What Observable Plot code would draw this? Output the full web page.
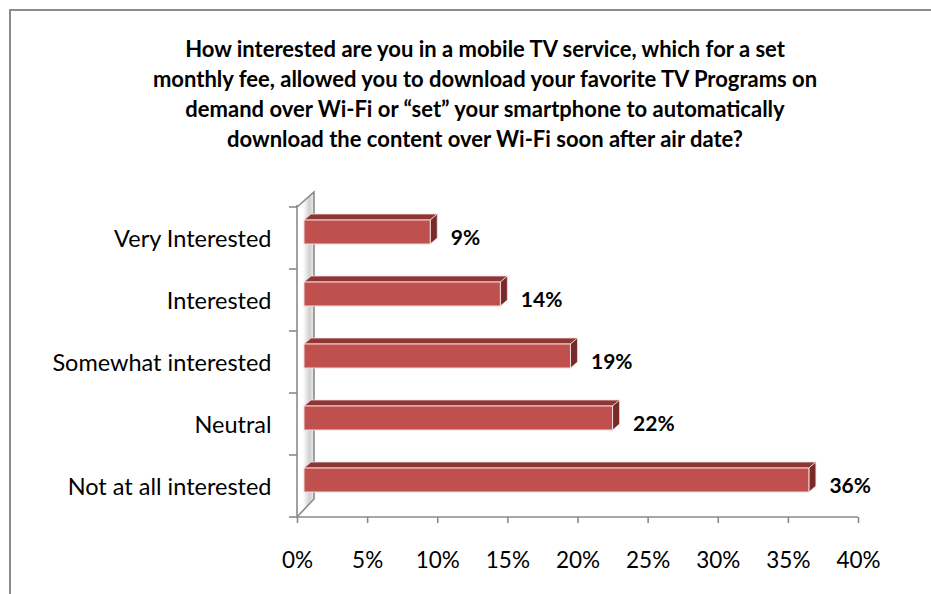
<!DOCTYPE html>
<html><head><meta charset="utf-8">
<script src="https://cdn.jsdelivr.net/npm/d3@7"></script>
<script src="https://cdn.jsdelivr.net/npm/@observablehq/plot@0.6"></script>
<style>
body{margin:0;background:#fff;}
#wrap{position:relative;width:931px;height:594px;overflow:hidden;background:#fff;}
#border{position:absolute;left:9px;top:9px;width:960px;height:620px;border:2px solid #8c8c8c;box-sizing:border-box;}
#chart{position:absolute;left:0;top:0;}
</style></head><body>
<div id="wrap"><div id="border"></div><div id="chart"></div></div>
<script>
const categories = ["Very Interested", "Interested", "Somewhat interested", "Neutral", "Not at all interested"];
const values = [9, 14, 19, 22, 36];
const valueLabels = ["9%", "14%", "19%", "22%", "36%"];
const xTicks = [0, 5, 10, 15, 20, 25, 30, 35, 40];
const titleLines = [
  "How interested are you in a mobile TV service, which for a set",
  "monthly fee, allowed you to download your favorite TV Programs on",
  "demand over Wi-Fi or \u201cset\u201d your smartphone to automatically",
  "download the content over Wi-Fi soon after air date?"
];

const data = categories.map((c, i) => ({cat: c, value: values[i], label: valueLabels[i]}));

const FONT = "Lato, 'Open Sans', sans-serif";
const DX = 7, DY = -6, DEPTH_X = 7, DEPTH_Y = -6, INSET = 19;
const RED = "#c0504d", TOP = "#8e3634", SIDE = "#772a28", EDGE = "#f4dada";

// 3D left wall, floor edge and category separators, through the plot scales
function walls(index, scales, vals, dims) {
  const x = scales.x, y = scales.y;
  const x0 = x(0), x1 = x(xTicks[xTicks.length - 1]);
  const top = y(categories[0]);
  const step = y.step();
  const bottom = top + step * categories.length;
  const g = d3.create("svg:g");
  const defs = g.append("defs");
  const grad = defs.append("linearGradient").attr("id", "wallgrad").attr("x1", "0").attr("x2", "1").attr("y1", "0").attr("y2", "0");
  grad.append("stop").attr("offset", "0%").attr("stop-color", "#ffffff");
  grad.append("stop").attr("offset", "35%").attr("stop-color", "#ffffff");
  grad.append("stop").attr("offset", "75%").attr("stop-color", "#cfcfcf");
  grad.append("stop").attr("offset", "100%").attr("stop-color", "#eeeeee");
  const wx = 17, wyTop = -15, wyBot = -18;
  g.append("path")
    .attr("d", `M${x0},${top}L${x0 + wx},${top + wyTop}L${x0 + wx},${bottom + wyBot}L${x0},${bottom}Z`)
    .attr("fill", "url(#wallgrad)");
  const st = {stroke: "#8a8a8a", "stroke-width": 1.6, fill: "none"};
  const line = (d) => { const p = g.append("path").attr("d", d); for (const k in st) p.attr(k, st[k]); };
  line(`M${x0},${top}L${x0 + wx},${top + wyTop}L${x0 + wx},${bottom + wyBot}L${x0},${bottom}`);
  line(`M${x0},${top - 2}L${x0},${bottom}L${x1},${bottom}`);
  for (let i = 0; i <= categories.length; i++) {
    const yy = top + i * step;
    line(`M${x0 - 8},${yy}L${x0},${yy}`);
  }
  return g.node();
}

// top and side faces of the 3D bars
function faces(index, scales) {
  const x = scales.x, y = scales.y;
  const g = d3.create("svg:g");
  for (const d of data) {
    const xa = x(0) + DX, xb = x(d.value) + DX;
    const yt = y(d.cat) + INSET + DY, yb = y(d.cat) + y.bandwidth() - INSET + DY;
    g.append("path")
      .attr("d", `M${xa},${yt}L${xb},${yt}L${xb + DEPTH_X},${yt + DEPTH_Y}L${xa + DEPTH_X},${yt + DEPTH_Y}Z`)
      .attr("fill", TOP).attr("stroke", EDGE).attr("stroke-width", 0.8);
    g.append("path")
      .attr("d", `M${xb},${yt}L${xb + DEPTH_X},${yt + DEPTH_Y}L${xb + DEPTH_X},${yb + DEPTH_Y}L${xb},${yb}Z`)
      .attr("fill", SIDE).attr("stroke", EDGE).attr("stroke-width", 0.8);
  }
  return g.node();
}

const chart = Plot.plot({
  width: 931,
  height: 594,
  marginLeft: 297,
  marginRight: 73,
  marginTop: 207,
  marginBottom: 77,
  style: {fontFamily: FONT, color: "#000", background: "transparent", overflow: "visible"},
  x: {domain: [0, 40], label: null},
  y: {domain: categories, padding: 0, label: null},
  marks: [
    walls,
    faces,
    Plot.barX(data, {x: "value", y: "cat", fill: RED, stroke: EDGE, strokeWidth: 1, dx: DX, dy: DY, insetTop: INSET, insetBottom: INSET}),
    Plot.axisX({ticks: xTicks, tickFormat: d => d + "%", tickSize: 6, tickPadding: 29, fontSize: 22.5, stroke: "#8a8a8a", strokeWidth: 1.6, fill: "#000", label: null}),
    Plot.axisY({tickSize: 0, tickPadding: 26, fontSize: 23.5, fill: "#000", dy: 1, label: null}),
    Plot.text(data, {x: "value", y: "cat", text: "label", textAnchor: "start", dx: 27, fontWeight: "bold", fontSize: 21, fill: "#000"}),
    Plot.text([titleLines.join("\n")], {frameAnchor: "top", text: d => d, lineAnchor: "top", dx: -93, dy: -172, fontSize: 22, fontWeight: "bold", lineHeight: 30 / 22, fill: "#000"})
  ]
});
document.getElementById("chart").appendChild(chart);
</script>
</body></html>
